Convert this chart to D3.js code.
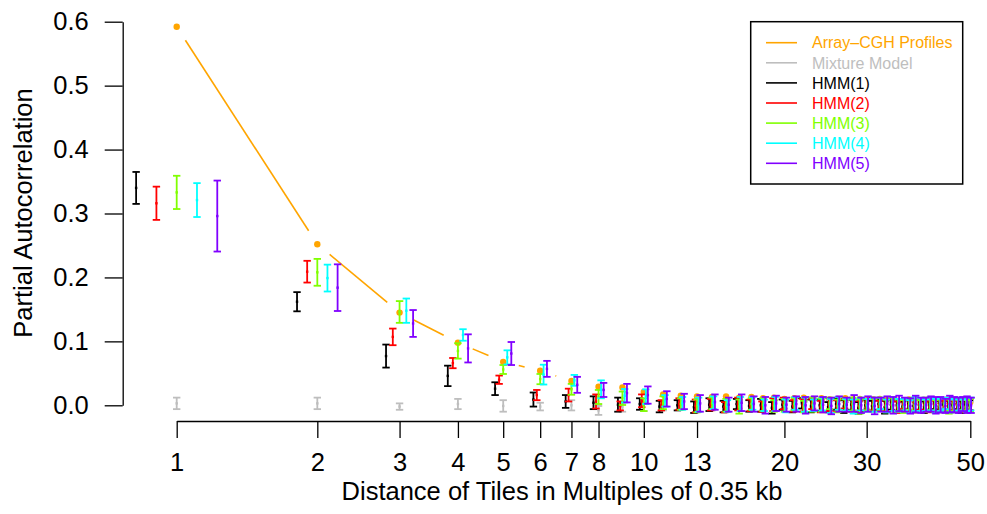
<!DOCTYPE html>
<html>
<head>
<meta charset="utf-8">
<script src="https://cdn.jsdelivr.net/npm/d3@7/dist/d3.min.js"></script>
<style>
  body { margin: 0; background: #fff; }
  text { font-family: "Liberation Sans", Arial, Helvetica, sans-serif; }
</style>
</head>
<body>
<svg id="chart"></svg>
<script>
const lags = [1, 2, 3, 4, 5, 6, 7, 8, 9, 10,
  11, 12, 13, 14, 15, 16, 17, 18, 19, 20,
  21, 22, 23, 24, 25, 26, 27, 28, 29, 30,
  31, 32, 33, 34, 35, 36, 37, 38, 39, 40,
  41, 42, 43, 44, 45, 46, 47, 48, 49, 50];

const xTicks = [1, 2, 3, 4, 5, 6, 7, 8, 10, 13, 20, 30, 50];
const yTicks = [0, 0.1, 0.2, 0.3, 0.4, 0.5, 0.6];

// observed partial autocorrelation of the array-CGH profiles
const acgh = [0.592, 0.252, 0.145, 0.098, 0.068, 0.054, 0.038, 0.029, 0.028, 0.021,
  0.017, 0.015, 0.014, 0.013, 0.014, 0.012, 0.013, 0.011, 0.012, 0.010,
  0.011, 0.012, 0.010, 0.011, 0.009, 0.010, 0.011, 0.009, 0.010, 0.008,
  0.009, 0.010, 0.008, 0.009, 0.007, 0.008, 0.009, 0.007, 0.008, 0.006,
  0.007, 0.008, 0.006, 0.007, 0.006, 0.007, 0.005, 0.006, 0.007, 0.005];

const mixMean = [0.003, 0.003, -0.002, 0.002, -0.001, -0.002, 0.000, -0.008, -0.003, -0.002,
  -0.001, 0.001, -0.002, 0.000, -0.001, 0.001, -0.002, 0.000, -0.001, 0.001,
  0.000, -0.002, 0.001, -0.001, 0.000, 0.001, -0.002, 0.000, -0.001, 0.001,
  0.000, -0.001, 0.001, -0.002, 0.000, 0.001, -0.001, 0.000, -0.001, 0.001,
  0.000, -0.001, 0.000, 0.001, -0.001, 0.000, -0.002, 0.001, 0.000, -0.001];
const mixErr = [0.009, 0.009, 0.005, 0.008, 0.009, 0.006, 0.008, 0.007, 0.007, 0.007,
  0.007, 0.006, 0.007, 0.008, 0.007, 0.006, 0.007, 0.007, 0.008, 0.006,
  0.007, 0.007, 0.006, 0.008, 0.007, 0.006, 0.007, 0.008, 0.007, 0.006,
  0.007, 0.008, 0.006, 0.007, 0.007, 0.006, 0.008, 0.007, 0.006, 0.007,
  0.007, 0.006, 0.008, 0.007, 0.006, 0.007, 0.007, 0.008, 0.006, 0.007];

const hmm1Mean = [0.340, 0.162, 0.077, 0.046, 0.026, 0.009, 0.006, 0.004, 0.001, 0.002,
  -0.002, 0.000, -0.003, 0.001, -0.002, 0.002, -0.001, 0.000, -0.004, 0.001,
  -0.002, 0.003, -0.001, 0.000, -0.003, 0.002, -0.002, 0.001, -0.004, 0.000,
  -0.001, 0.002, -0.003, 0.001, 0.000, -0.002, 0.002, -0.001, 0.001, -0.003,
  0.000, 0.002, -0.002, 0.001, -0.001, 0.000, 0.002, -0.003, 0.001, 0.000];
const hmm1Err = [0.025, 0.015, 0.018, 0.016, 0.010, 0.011, 0.010, 0.010, 0.011, 0.009,
  0.009, 0.008, 0.009, 0.010, 0.009, 0.008, 0.009, 0.010, 0.009, 0.008,
  0.009, 0.008, 0.010, 0.009, 0.008, 0.009, 0.010, 0.008, 0.009, 0.009,
  0.008, 0.009, 0.010, 0.008, 0.009, 0.008, 0.009, 0.010, 0.008, 0.009,
  0.009, 0.008, 0.009, 0.010, 0.008, 0.009, 0.008, 0.009, 0.010, 0.008];

const hmm2Mean = [0.316, 0.209, 0.107, 0.066, 0.040, 0.016, 0.016, 0.006, -0.001, 0.007,
  0.000, 0.002, -0.001, 0.001, -0.003, 0.002, 0.000, -0.002, 0.001, 0.003,
  -0.001, 0.000, 0.002, -0.002, 0.001, -0.001, 0.003, 0.000, -0.002, 0.001,
  0.002, -0.001, 0.000, 0.001, -0.003, 0.002, 0.000, -0.001, 0.002, 0.000,
  -0.002, 0.001, 0.000, -0.001, 0.002, -0.002, 0.001, 0.000, -0.001, 0.001];
const hmm2Err = [0.026, 0.017, 0.013, 0.008, 0.0065, 0.008, 0.010, 0.011, 0.007, 0.010,
  0.008, 0.009, 0.010, 0.009, 0.008, 0.010, 0.009, 0.008, 0.010, 0.009,
  0.009, 0.010, 0.008, 0.009, 0.010, 0.009, 0.008, 0.010, 0.009, 0.009,
  0.010, 0.008, 0.009, 0.010, 0.009, 0.008, 0.009, 0.010, 0.009, 0.008,
  0.009, 0.010, 0.009, 0.008, 0.010, 0.009, 0.009, 0.008, 0.010, 0.009];

const hmm3Mean = [0.333, 0.208, 0.146, 0.085, 0.056, 0.041, 0.025, 0.013, 0.011, 0.001,
  0.004, 0.002, -0.001, 0.003, 0.000, -0.002, 0.002, 0.001, -0.001, 0.000,
  0.002, -0.002, 0.001, 0.000, 0.003, -0.001, 0.000, 0.002, -0.002, 0.001,
  0.000, 0.002, -0.001, 0.001, 0.000, -0.002, 0.002, 0.000, -0.001, 0.001,
  0.002, -0.001, 0.000, 0.001, -0.002, 0.001, 0.000, 0.002, -0.001, 0.000];
const hmm3Err = [0.026, 0.021, 0.017, 0.012, 0.007, 0.008, 0.0085, 0.011, 0.0105, 0.010,
  0.010, 0.009, 0.010, 0.009, 0.010, 0.011, 0.009, 0.010, 0.009, 0.010,
  0.010, 0.009, 0.011, 0.010, 0.009, 0.010, 0.009, 0.010, 0.011, 0.009,
  0.010, 0.009, 0.010, 0.011, 0.009, 0.010, 0.009, 0.010, 0.009, 0.011,
  0.010, 0.009, 0.010, 0.009, 0.011, 0.010, 0.009, 0.010, 0.009, 0.010];

const hmm4Mean = [0.321, 0.199, 0.148, 0.110, 0.075, 0.048, 0.039, 0.025, 0.015, 0.0135,
  0.007, 0.003, 0.001, 0.004, -0.001, 0.002, 0.003, 0.000, 0.002, -0.001,
  0.003, 0.001, 0.000, 0.002, -0.001, 0.003, 0.001, -0.002, 0.002, 0.000,
  0.001, 0.003, -0.001, 0.002, 0.000, 0.001, -0.002, 0.002, 0.001, 0.000,
  0.002, -0.001, 0.001, 0.003, 0.000, -0.001, 0.002, 0.000, 0.001, 0.002];
const hmm4Err = [0.0265, 0.021, 0.019, 0.009, 0.011, 0.0155, 0.0085, 0.014, 0.0105, 0.0115,
  0.009, 0.010, 0.011, 0.010, 0.009, 0.011, 0.010, 0.009, 0.011, 0.010,
  0.010, 0.011, 0.009, 0.010, 0.011, 0.010, 0.009, 0.011, 0.010, 0.010,
  0.011, 0.009, 0.010, 0.011, 0.010, 0.009, 0.010, 0.011, 0.010, 0.009,
  0.010, 0.011, 0.010, 0.009, 0.011, 0.010, 0.010, 0.009, 0.011, 0.010];

const hmm5Mean = [0.296, 0.184, 0.128, 0.089, 0.081, 0.057, 0.032, 0.024, 0.019, 0.016,
  0.010, 0.006, 0.003, 0.005, 0.001, 0.004, 0.002, 0.000, 0.003, 0.001,
  0.002, 0.000, 0.003, 0.001, -0.001, 0.002, 0.001, 0.003, 0.000, 0.002,
  -0.001, 0.001, 0.002, 0.000, 0.003, 0.001, -0.001, 0.002, 0.000, 0.001,
  0.002, 0.000, 0.001, -0.001, 0.002, 0.001, 0.000, 0.002, 0.001, 0.000];
const hmm5Err = [0.0555, 0.0365, 0.021, 0.022, 0.018, 0.0125, 0.0125, 0.011, 0.0145, 0.0135,
  0.012, 0.012, 0.013, 0.012, 0.011, 0.013, 0.012, 0.013, 0.012, 0.011,
  0.012, 0.013, 0.011, 0.012, 0.013, 0.012, 0.011, 0.013, 0.012, 0.012,
  0.013, 0.011, 0.012, 0.013, 0.012, 0.011, 0.012, 0.013, 0.012, 0.011,
  0.012, 0.013, 0.012, 0.011, 0.013, 0.012, 0.012, 0.011, 0.013, 0.012];

const seriesNames = ["Array\u2013CGH Profiles", "Mixture Model", "HMM(1)", "HMM(2)", "HMM(3)", "HMM(4)", "HMM(5)"];
const seriesColors = ["#FFA500", "#BEBEBE", "#000000", "#FF0000", "#80FF00", "#00FFFF", "#8000FF"];

const W = 987, H = 514;
const axisFont = 25.5;
const svg = d3.select("#chart").attr("width", W).attr("height", H);

const x = d3.scaleLog().domain([1, 50]).range([176.7, 970.3]);
const y = d3.scaleLinear().domain([0, 0.6]).range([405.3, 21.7]);

// models are dodged sideways around each lag, less at larger lags
function xPos(lag, k) {
  return x(lag * Math.exp(0.1 * (k - 3) / lag));
}

// x axis
const xAxis = svg.append("g")
  .attr("transform", "translate(0,421)")
  .call(d3.axisBottom(x).tickValues(xTicks).tickFormat(d3.format("d"))
    .tickSize(17).tickSizeOuter(0).tickPadding(15));

// y axis
const yAxis = svg.append("g")
  .attr("transform", "translate(122.7,0)")
  .call(d3.axisLeft(y).tickValues(yTicks).tickFormat(d3.format(".1f"))
    .tickSize(18).tickSizeOuter(0).tickPadding(16));

[xAxis, yAxis].forEach(a => {
  a.selectAll("path, line").attr("stroke", "#000").attr("stroke-width", 1.3);
  a.selectAll("text").attr("font-size", axisFont).attr("fill", "#000")
    .style("font-family", '"Liberation Sans", Arial, sans-serif');
});

svg.append("text")
  .attr("x", 562).attr("y", 500)
  .attr("text-anchor", "middle")
  .attr("font-size", axisFont)
  .text("Distance of Tiles in Multiples of 0.35 kb");

svg.append("text")
  .attr("transform", "translate(31.5,213) rotate(-90)")
  .attr("text-anchor", "middle")
  .attr("font-size", axisFont)
  .text("Partial Autocorrelation");

// orange line with gaps round the points (R type "b")
const pts = lags.map((l, i) => [x(l), y(acgh[i])]);
const gap = 16;
const segs = [];
for (let i = 0; i < pts.length - 1; i++) {
  const [x0, y0] = pts[i], [x1, y1] = pts[i + 1];
  const len = Math.hypot(x1 - x0, y1 - y0);
  if (len > 2 * gap) {
    const ux = (x1 - x0) / len, uy = (y1 - y0) / len;
    segs.push([x0 + ux * gap, y0 + uy * gap, x1 - ux * gap, y1 - uy * gap]);
  }
}
svg.append("g").selectAll("line").data(segs).enter().append("line")
  .attr("x1", d => d[0]).attr("y1", d => d[1])
  .attr("x2", d => d[2]).attr("y2", d => d[3])
  .attr("stroke", seriesColors[0]).attr("stroke-width", 1.6);
svg.append("g").selectAll("circle").data(pts).enter().append("circle")
  .attr("cx", d => d[0]).attr("cy", d => d[1]).attr("r", 3.2)
  .attr("fill", seriesColors[0]);

// error bars
const models = [
  { mean: mixMean, err: mixErr, color: seriesColors[1], k: 3 },
  { mean: hmm1Mean, err: hmm1Err, color: seriesColors[2], k: 1 },
  { mean: hmm2Mean, err: hmm2Err, color: seriesColors[3], k: 2 },
  { mean: hmm3Mean, err: hmm3Err, color: seriesColors[4], k: 3 },
  { mean: hmm4Mean, err: hmm4Err, color: seriesColors[5], k: 4 },
  { mean: hmm5Mean, err: hmm5Err, color: seriesColors[6], k: 5 }
];
const cap = 3.7;

models.forEach(m => {
  const g = svg.append("g").attr("stroke", m.color).attr("stroke-width", 1.8).attr("fill", "none");
  const rows = lags.map((l, i) => ({ cx: xPos(l, m.k), lo: y(m.mean[i] - m.err[i]), hi: y(m.mean[i] + m.err[i]), c: y(m.mean[i]) }));
  const bar = g.selectAll("g").data(rows).enter().append("g");
  bar.append("line").attr("x1", d => d.cx).attr("x2", d => d.cx).attr("y1", d => d.lo).attr("y2", d => d.hi);
  bar.append("line").attr("x1", d => d.cx - cap).attr("x2", d => d.cx + cap).attr("y1", d => d.lo).attr("y2", d => d.lo);
  bar.append("line").attr("x1", d => d.cx - cap).attr("x2", d => d.cx + cap).attr("y1", d => d.hi).attr("y2", d => d.hi);
  bar.append("rect").attr("x", d => d.cx - 1.2).attr("y", d => d.c - 1.2).attr("width", 2.4).attr("height", 2.4)
    .attr("fill", m.color).attr("stroke", "none");
});

// legend
const legend = svg.append("g");
legend.append("rect")
  .attr("x", 750.7).attr("y", 21.7).attr("width", 212).attr("height", 162.3)
  .attr("fill", "#fff").attr("stroke", "#000").attr("stroke-width", 1.5);
seriesNames.forEach((name, i) => {
  const ly = 42.7 + i * 20.1;
  legend.append("line").attr("x1", 766).attr("x2", 797).attr("y1", ly).attr("y2", ly)
    .attr("stroke", seriesColors[i]).attr("stroke-width", 1.6);
  legend.append("text").attr("x", 812).attr("y", ly).attr("dy", "0.36em")
    .attr("font-size", 16).attr("fill", seriesColors[i]).text(name);
});
</script>
</body>
</html>
